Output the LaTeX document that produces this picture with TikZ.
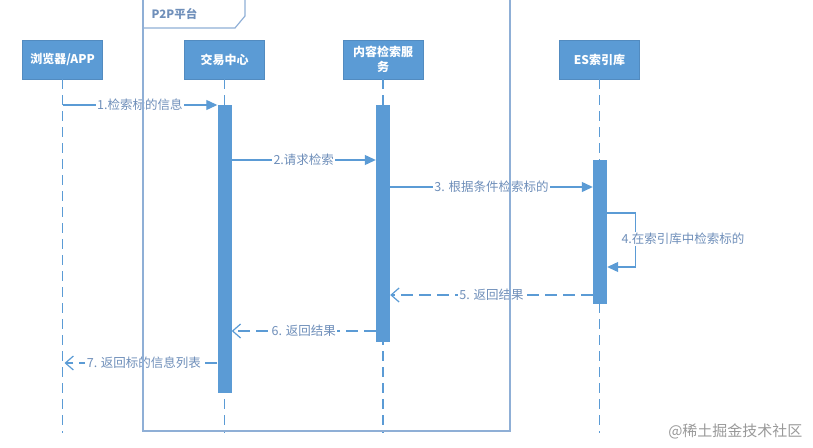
\documentclass[tikz,border=0pt]{standalone}
\usepackage{fontspec}
\setmainfont{Noto Sans CJK SC}
\usetikzlibrary{arrows.meta}
\definecolor{uml}{HTML}{5B9BD5}
\definecolor{lbl}{HTML}{6F8FBA}
\definecolor{frm}{HTML}{8FAFD6}
\begin{document}
\begin{tikzpicture}[x=1pt,y=-1pt,
  actor/.style={fill=uml, draw=uml!90!black, line width=0.4pt, text=white,
    font=\bfseries\fontsize{12}{15}\selectfont, minimum width=80pt,
    minimum height=39pt, inner sep=2pt, align=center},
  actbar/.style={fill=uml, draw=none, minimum width=14pt, inner sep=0pt},
  life/.style={uml, line width=1.1pt, dash pattern=on 10pt off 6pt},
  msg/.style={uml, line width=1.2pt, -{Triangle[length=11pt,width=10pt]}},
  ret/.style={uml, line width=1.2pt, dash pattern=on 12pt off 6pt,
    -{Straight Barb[length=8pt,width=14pt]}},
  lab/.style={fill=white, text=lbl, font=\fontsize{12.5}{14}\selectfont, inner sep=1.5pt},
  frame/.style={frm, line width=1.2pt},
]
\useasboundingbox (0,0) rectangle (813,447);
\clip (0,0) rectangle (813,447);

% actors
\node[actor] (b1) at (62.5,59.5) {浏览器/APP};
\node[actor] (b2) at (224.5,59.5) {交易中心};
\node[actor] (b3) at (383,59.5) {内容检索服\\务};
\node[actor] (b4) at (599.5,59.5) {ES索引库};

% lifeline ends
\coordinate (e1) at (62.5,433);
\coordinate (e2) at (224.5,433);
\coordinate (e3) at (383,433);
\coordinate (e4) at (599.5,433);
\draw[life] (b1.south) -- (e1);
\draw[life] (b2.south) -- (e2);
\draw[life] (b3.south) -- (e3);
\draw[life] (b4.south) -- (e4);

% activation bars
\node[actbar, minimum height=288pt] (a2) at (224.5,249) {};
\node[actbar, minimum height=237pt] (a3) at (383,223.5) {};
\node[actbar, minimum height=144pt] (a4) at (600,232) {};

% message levels
\coordinate (y1) at (0,105);
\coordinate (y2) at (0,160);
\coordinate (y3) at (0,187);
\coordinate (y4a) at (0,213);
\coordinate (y4b) at (0,267);
\coordinate (y5) at (0,295);
\coordinate (y6) at (0,331);
\coordinate (y7) at (0,363);

\draw[msg] (b1 |- y1) -- (a2.west |- y1) node[lab, midway] {1.检索标的信息};
\draw[msg] (a2.east |- y2) -- (a3.west |- y2) node[lab, midway] {2.请求检索};
\draw[msg] (a3.east |- y3) -- (a4.west |- y3) node[lab, midway] {3. 根据条件检索标的};
\draw[msg] (a4.east |- y4a) -- ++(28,0) -- ++(0,54) -- (a4.east |- y4b);
\node[lab] (l4) at (683,239) {4.在索引库中检索标的};
\draw[ret] (a4.west |- y5) -- (a3.east |- y5) node[lab, midway] {5. 返回结果};
\draw[ret] (a3.west |- y6) -- (a2.east |- y6) node[lab, midway] {6. 返回结果};
\draw[ret] (a2.west |- y7) -- ([xshift=2pt]b1 |- y7) node[lab, midway, xshift=3pt] {7. 返回标的信息列表};

% frame
\draw[frame] (143,-5) -- (143,431) -- (510,431) -- (510,-5);
\draw[frame] (143,28) -- (235,28) -- (245,16) -- (245,-5);
\node[text=lbl, font=\bfseries\fontsize{11.5}{13}\selectfont, anchor=west] (ft) at (148,14) {P2P平台};

% watermark
\node[text=black!40, font=\fontsize{15}{17}\selectfont, anchor=east] (wm) at (806,431) {@稀土掘金技术社区};
\end{tikzpicture}
\end{document}
